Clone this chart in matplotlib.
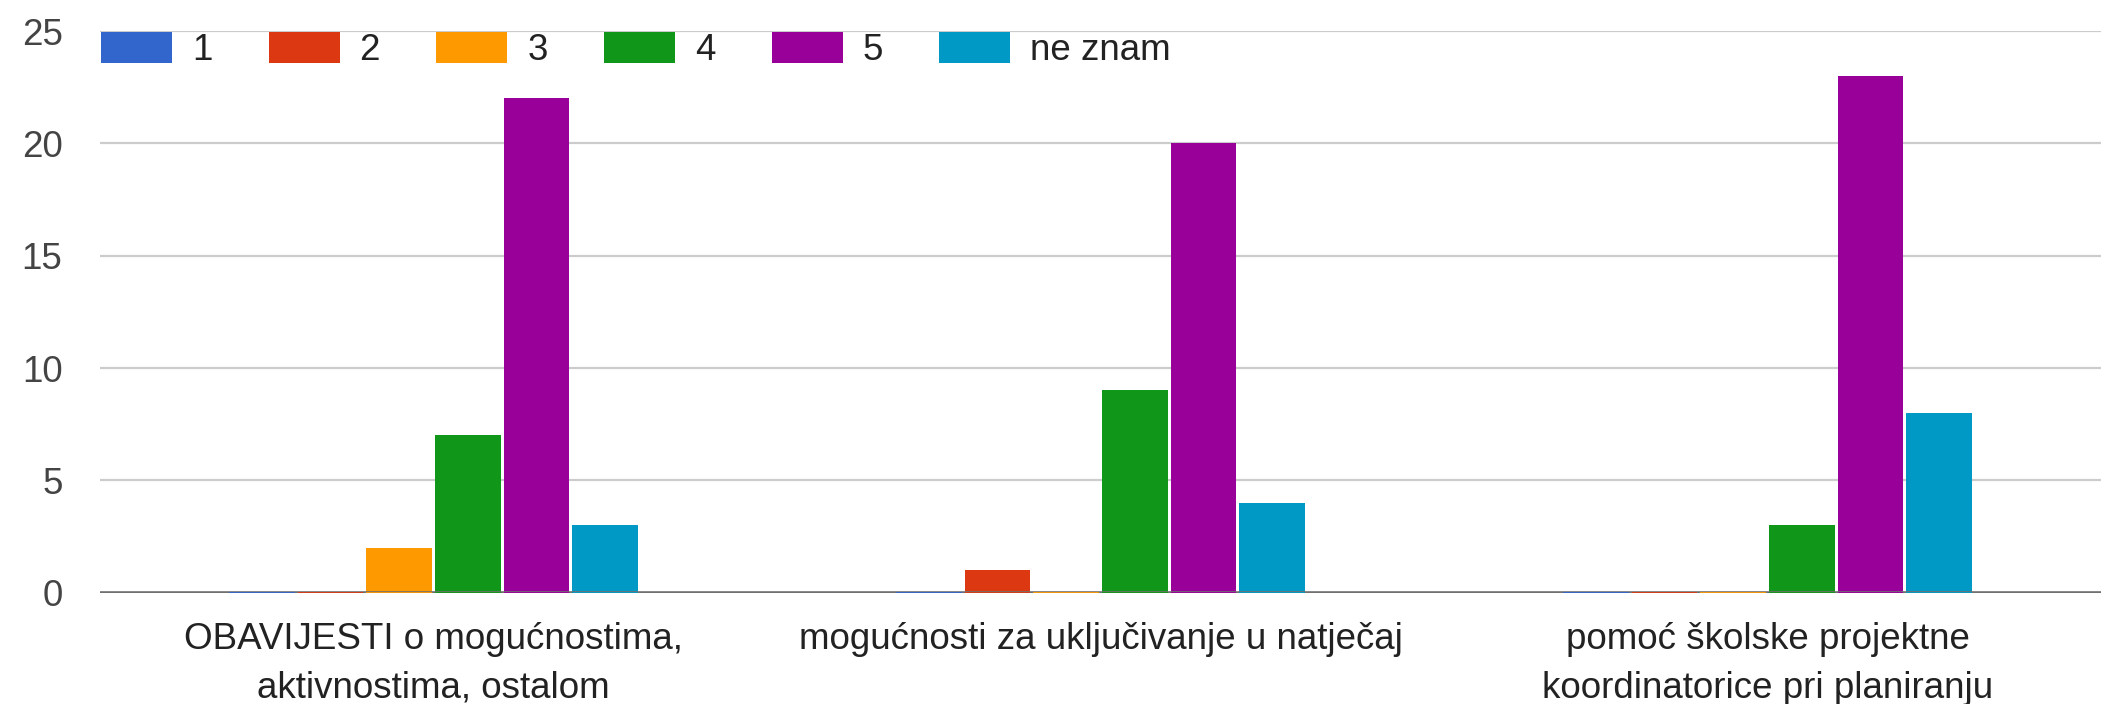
import matplotlib
matplotlib.use("Agg")
import matplotlib.pyplot as plt
import numpy as np

categories = [
    "OBAVIJESTI o mogućnostima,\naktivnostima, ostalom",
    "mogućnosti za uključivanje u natječaj",
    "pomoć školske projektne\nkoordinatorice pri planiranju",
]
series_names = ["1", "2", "3", "4", "5", "ne znam"]
values = {
    "1": [0, 0, 0],
    "2": [0, 1, 0],
    "3": [2, 0, 0],
    "4": [7, 9, 3],
    "5": [22, 20, 23],
    "ne znam": [3, 4, 8],
}
colors = ["#3366cc", "#dc3912", "#ff9900", "#109618", "#990099", "#0099c6"]
yticks = [0, 5, 10, 15, 20, 25]

plt.rcParams["font.family"] = ["Liberation Sans", "DejaVu Sans"]
FS = 26.5

W, H = 2101, 704
fig = plt.figure(figsize=(W / 100, H / 100), dpi=100)
ax_left, ax_right = 100 / W, 1.0
ax_bottom, ax_top = (H - 592.7) / H, (H - 31) / H
ax = fig.add_axes([ax_left, ax_bottom, ax_right - ax_left, ax_top - ax_bottom])

n = len(series_names)
group_w = 0.618
slot = group_w / n
bar_w = slot * 0.955
x = np.arange(len(categories))

handles = []
for i, name in enumerate(series_names):
    xs = x - group_w / 2 + slot * (i + 0.5)
    b = ax.bar(xs, values[name], width=bar_w, color=colors[i], linewidth=0, zorder=3, label=name)
    handles.append(b)
    ax.hlines([0] * len(xs), xs - bar_w / 2, xs + bar_w / 2, colors=colors[i], lw=1.3, zorder=4.5)

ax.axhline(0, color="#707070", lw=2.6, zorder=4)
ax.set_xlim(-0.5, len(categories) - 0.5)
ax.set_ylim(0, 25)
ax.set_yticks(yticks)
ax.set_yticklabels([str(t) for t in yticks])
ax.yaxis.grid(True, color="#cccccc", lw=1.6, zorder=0)
ax.set_axisbelow(True)
for s in ax.spines.values():
    s.set_visible(False)
ax.tick_params(axis="y", length=0, pad=27, labelsize=FS, labelcolor="#444444")
ax.set_xticks(x)
ax.set_xticklabels(categories, linespacing=1.52)
ax.tick_params(axis="x", length=0, pad=21, labelsize=FS, labelcolor="#222222")

leg = fig.legend(handles=handles, labels=series_names, loc="center left",
                 bbox_to_anchor=(101 / W, 1 - 50 / H), ncol=6, frameon=False,
                 fontsize=FS, handlelength=1.93, handleheight=0.92,
                 handletextpad=0.54, columnspacing=1.53, borderpad=0, borderaxespad=0)
for t in leg.get_texts():
    t.set_color("#222222")

fig.savefig("out.png", dpi=100)
